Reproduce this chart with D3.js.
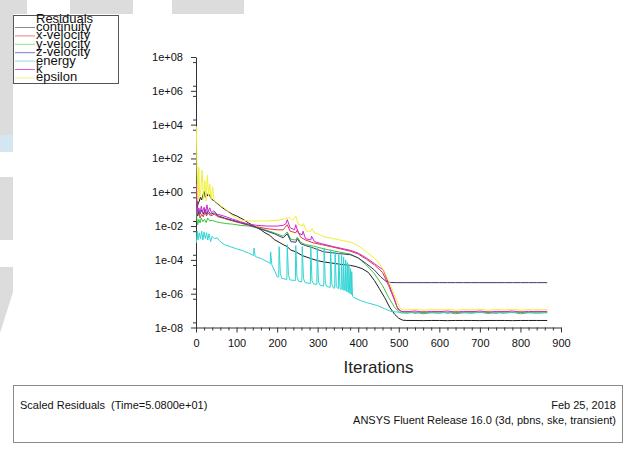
<!DOCTYPE html>
<html>
<head>
<meta charset="utf-8">
<script src="https://cdn.jsdelivr.net/npm/d3@7"></script>
<style>
  body { margin: 0; background: #fff; }
  svg { display: block; font-family: "Liberation Sans", Arial, sans-serif; }
</style>
</head>
<body>
<div id="main"></div>
<script>
// residual histories, [iteration, scaled residual]
var continuity = [[1,1e2],[2,1.5e0],[3,1.2e-1],[5,2e-1],[8,3e-1],[11,5e-1],[14,3.5e-1],[17,7e-1],[20,1.1e0],[23,5e-1],[26,9e-1],[29,6e-1],[33,7e-1],[38,4e-1],[45,3e-1],[52,2.2e-1],[60,1.5e-1],[70,1e-1],[80,7e-2],[90,5e-2],[100,4e-2],[110,3e-2],[120,2.2e-2],[130,1.5e-2],[140,1.1e-2],[150,8e-3],[160,6e-3],[170,4e-3],[182,2.8e-3],[193,1.6e-3],[205,1.1e-3],[215,8e-4],[225,6e-4],[234,3.8e-4],[246,3e-4],[262,1.8e-4],[283,1.2e-4],[300,9e-5],[315,7.5e-5],[335,6.5e-5],[355,5.5e-5],[381,4.7e-5],[395,4e-5],[410,3e-5],[425,1.8e-5],[440,6e-6],[452,2e-6],[465,6e-7],[478,1.5e-7],[490,6e-8],[500,3.5e-8],[510,2.7e-8]];
var xVelocity = [[1,8e-1],[2,1e-1],[4,4e-2],[7,6e-2],[10,3e-2],[14,5e-2],[18,3.5e-2],[22,7e-2],[26,4e-2],[30,6e-2],[36,4e-2],[45,5e-2],[55,3.5e-2],[70,2.8e-2],[90,2e-2],[110,1.5e-2],[130,1.1e-2],[150,9e-3],[175,7e-3],[200,6e-3],[215,6e-3],[225,1.2e-2],[232,5e-3],[246,4e-3],[250,6e-3],[258,2.2e-3],[270,1.5e-3],[290,1e-3],[310,8e-4],[340,5.5e-4],[382,3.2e-4],[400,2.2e-4],[420,1.1e-4],[440,5e-5],[460,1.8e-5],[475,3e-6],[488,5e-7],[498,1.2e-7],[510,8e-8]];
var yVelocity = [[1,5e-1],[2,3e-2],[4,1.2e-2],[7,2.5e-2],[10,1.5e-2],[13,3e-2],[17,1.8e-2],[21,2.5e-2],[25,1.6e-2],[29,3e-2],[34,2e-2],[40,2.2e-2],[50,1.8e-2],[60,1.6e-2],[75,1.4e-2],[90,1.3e-2],[110,1.1e-2],[130,1e-2],[150,8e-3],[170,6e-3],[193,4e-3],[215,2.5e-3],[225,4.5e-3],[234,1.6e-3],[246,1.5e-3],[250,2.2e-3],[258,1.1e-3],[270,8e-4],[290,6.5e-4],[315,4.5e-4],[350,3e-4],[381,2.2e-4],[400,1.3e-4],[420,5e-5],[440,1.5e-5],[460,3e-6],[475,6e-7],[490,1.5e-7],[503,7.5e-8]];
var zVelocity = [[1,1.5e0],[2,1.5e-1],[4,4e-2],[7,8e-2],[10,5e-2],[14,9e-2],[18,5e-2],[22,1e-1],[26,5e-2],[30,8e-2],[36,5e-2],[45,6e-2],[55,4e-2],[70,3e-2],[90,2.2e-2],[110,1.6e-2],[130,1.2e-2],[150,8e-3],[170,5.5e-3],[193,3.5e-3],[215,2e-3],[225,3.5e-3],[234,1.2e-3],[246,1.1e-3],[250,1.8e-3],[258,9e-4],[270,7e-4],[290,5e-4],[315,3e-4],[350,2.4e-4],[381,2e-4],[400,1.3e-4],[420,6e-5],[440,2.5e-5],[455,1e-5],[468,5.5e-6],[480,4.6e-6],[495,4.5e-6]];
var energy = [[1,1e-3],[3,5e-3],[5,1.5e-3],[8,4e-3],[11,1.8e-3],[14,5e-3],[17,1.5e-3],[20,4.5e-3],[23,1.8e-3],[26,4e-3],[29,1.5e-3],[32,3.5e-3],[36,1.2e-3],[40,2.5e-3],[45,1.8e-3],[52,2e-3],[60,1.2e-3],[70,8e-4],[85,6e-4],[100,4.5e-4],[115,3.5e-4],[130,2.5e-4],[142,1.8e-4],[143,5e-4],[146,1.6e-4],[160,1.2e-4],[175,8e-5],[183,6e-5],[184,3e-4],[187,5e-5],[195,2e-5],[200,1e-5],[204,1e-5],[205,6e-4],[208,1.5e-5],[212,8e-6],[224,7e-6],[225,8e-4],[228,1.2e-5],[232,6.5e-6],[245,6e-6],[246,7e-4],[249,1e-5],[253,5.5e-6],[261,5e-6],[262,6e-4],[265,8e-6],[269,4.5e-6],[282,4e-6],[283,6e-4],[286,6e-6],[290,3.8e-6],[298,3.5e-6],[299,5e-4],[302,5e-6],[306,3.2e-6],[315,2.8e-6],[316,5e-4],[319,4e-6],[323,2.6e-6],[331,2.4e-6],[332,4e-4],[335,3.5e-6],[339,2.2e-6],[342,2.1e-6],[343,3e-4],[346,2.5e-6],[351,2e-6],[352,2.5e-4],[355,2e-6],[358,1.8e-6],[359,2e-4],[361,2e-6],[363,1.6e-6],[364,1.5e-4],[366,1.8e-6],[368,1.5e-6],[369,1e-4],[371,1.5e-6],[372,1.3e-6],[373,7e-5],[375,1.3e-6],[376,1.2e-6],[377,5e-5],[379,1.1e-6],[380,1e-6],[381,3e-5],[383,9e-7],[384,2e-5],[386,7e-7],[389,6e-7],[405,4e-7],[420,3e-7],[447,2e-7],[465,1.3e-7],[480,9e-8],[500,8e-8]];
var kResid = [[1,3e0],[2,2e-1],[4,5e-2],[7,1.2e-1],[10,6e-2],[13,1.5e-1],[16,7e-2],[20,1.3e-1],[24,6e-2],[27,1.8e-1],[30,7e-2],[34,1.2e-1],[38,6e-2],[44,8e-2],[52,5e-2],[60,4.5e-2],[75,3.5e-2],[90,2.6e-2],[110,1.8e-2],[130,1.3e-2],[150,1.1e-2],[175,1e-2],[200,1e-2],[215,1.1e-2],[222,1.4e-2],[225,2.4e-2],[232,8e-3],[243,6e-3],[246,1.2e-2],[252,4e-3],[262,3e-3],[264,5e-3],[270,1.8e-3],[283,1.5e-3],[285,2.5e-3],[292,1.2e-3],[310,9e-4],[340,6e-4],[382,3.6e-4],[400,2.5e-4],[420,1.3e-4],[440,6e-5],[462,2.5e-5],[475,4e-6],[488,6e-7],[496,1.6e-7],[505,9e-8]];
var epsilon = [[1,8e3],[2,5e1],[3,3e0],[5,3e-1],[7,3e1],[9,5e-1],[12,1.5e0],[15,2e1],[18,4e-1],[22,5e0],[25,3e-1],[28,1e1],[31,6e-1],[34,3e0],[37,4e-1],[41,2e0],[45,3e-1],[52,2.5e-1],[60,1.6e-1],[70,1.2e-1],[85,5e-2],[100,3e-2],[115,2.2e-2],[130,2e-2],[150,2e-2],[175,2e-2],[200,2.2e-2],[215,2.5e-2],[225,3e-2],[230,3.3e-2],[238,2.2e-2],[246,3.8e-2],[252,1.3e-2],[262,1e-2],[265,1.4e-2],[272,5e-3],[283,5e-3],[286,7e-3],[292,4e-3],[300,3.5e-3],[316,2.3e-3],[340,1.8e-3],[360,1.4e-3],[382,1.1e-3],[400,7e-4],[420,3e-4],[447,9e-5],[465,2e-5],[480,3e-6],[493,5e-7],[504,1.3e-7],[512,1.1e-7]];

// converged tails, sampled at the same iterations
var tailIters = [520,540,560,580,600,620,640,660,680,700,720,740,760,780,800,820,840,866];
var continuityTail = [2.6e-8,2.6e-8,2.55e-8,2.6e-8,2.6e-8,2.55e-8,2.6e-8,2.6e-8,2.6e-8,2.55e-8,2.6e-8,2.6e-8,2.6e-8,2.55e-8,2.6e-8,2.6e-8,2.6e-8,2.6e-8];
var xVelocityTail = [9e-8,7e-8,8.5e-8,7.5e-8,9e-8,7e-8,8.5e-8,7.5e-8,9e-8,7.5e-8,8.5e-8,7e-8,9e-8,7.5e-8,8.5e-8,7.5e-8,9e-8,8e-8];
var yVelocityTail = [7e-8,8e-8,6.5e-8,7.5e-8,7e-8,8e-8,6.5e-8,7.5e-8,7e-8,8e-8,6.8e-8,7.6e-8,7e-8,8e-8,6.5e-8,7.5e-8,7e-8,7.5e-8];
var zVelocityTail = [4.5e-6,4.5e-6,4.5e-6,4.5e-6,4.5e-6,4.5e-6,4.5e-6,4.5e-6,4.5e-6,4.5e-6,4.5e-6,4.5e-6,4.5e-6,4.5e-6,4.5e-6,4.5e-6,4.5e-6,4.5e-6];
var energyTail = [8e-8,8e-8,7.8e-8,8e-8,8e-8,7.8e-8,8e-8,8e-8,7.8e-8,8e-8,8e-8,7.8e-8,8e-8,8e-8,7.8e-8,8e-8,8e-8,8e-8];
var kTail = [8.5e-8,9.5e-8,8e-8,9e-8,8.5e-8,9.5e-8,8e-8,9e-8,8.5e-8,9.5e-8,8e-8,9e-8,8.5e-8,9.5e-8,8e-8,9e-8,8.5e-8,9e-8];
var epsilonTail = [1.1e-7,1.2e-7,1.05e-7,1.15e-7,1.1e-7,1.2e-7,1.05e-7,1.15e-7,1.1e-7,1.2e-7,1.05e-7,1.15e-7,1.1e-7,1.2e-7,1.05e-7,1.15e-7,1.1e-7,1.15e-7];

var names = ["continuity","x-velocity","y-velocity","z-velocity","energy","k","epsilon"];
var yTicks = [1e-8,1e-6,1e-4,1e-2,1e0,1e2,1e4,1e6,1e8];
var xTicks = [0,100,200,300,400,500,600,700,800,900];

var colors = ["#1e1e1e","#e03a3a","#3cc43c","#3a3a70","#30d4d4","#d028d0","#f2f034"];
var legendColors = ["#8c8c8c","#e88080","#90dc90","#7a7ac8","#88dcdc","#d860d8","#f0f090"];

var heads = [continuity,xVelocity,yVelocity,zVelocity,energy,kResid,epsilon];
var tails = [continuityTail,xVelocityTail,yVelocityTail,zVelocityTail,energyTail,kTail,epsilonTail];
var series = heads.map(function(h, i) {
  return h.concat(tailIters.map(function(t, j) { return [t, tails[i][j]]; }));
});

var W = 635, H = 457;
var svg = d3.select("#main").append("svg").attr("width", W).attr("height", H);

// page decoration behind the chart
var deco = svg.append("g");
deco.append("rect").attr("x",0).attr("y",0).attr("width",27).attr("height",14).attr("fill","#dcdcdc");
deco.append("rect").attr("x",70).attr("y",0).attr("width",63).attr("height",14).attr("fill","#dcdcdc");
deco.append("rect").attr("x",172).attr("y",0).attr("width",72).attr("height",14).attr("fill","#dcdcdc");
deco.append("rect").attr("x",0).attr("y",0).attr("width",13).attr("height",135).attr("fill","#dcdcdc");
deco.append("rect").attr("x",0).attr("y",135).attr("width",13).attr("height",17).attr("fill","#d4e7f0");
deco.append("rect").attr("x",0).attr("y",177).attr("width",13).attr("height",63).attr("fill","#dcdcdc");
deco.append("path").attr("d","M0,267L13,267L13,292L0,333Z").attr("fill","#dcdcdc");

var x = d3.scaleLinear().domain([0,900]).range([196,561]);
var y = d3.scaleLog().domain([1e-8,1e8]).range([327.5,57]);

function fmt(v) {
  var e = Math.round(Math.log10(v));
  return "1e" + (e < 0 ? "-" : "+") + String(Math.abs(e)).padStart(2,"0");
}

// minor ticks
var yMinor = [];
yTicks.forEach(function(t) { yMinor.push(t*2, t/2); });
yMinor = yMinor.filter(function(v) { return v > 1e-8 && v < 1e8; });
var xMinor = [];
xTicks.forEach(function(t) { [20,40,60,80].forEach(function(m) { if (t + m < 900) xMinor.push(t + m); }); });

svg.append("g").attr("transform","translate(196,0)")
  .call(d3.axisLeft(y).tickValues(yMinor).tickSize(3).tickFormat(""))
  .call(function(g) { g.select(".domain").remove(); });
svg.append("g").attr("transform","translate(0,327.5)")
  .call(d3.axisBottom(x).tickValues(xMinor).tickSize(3).tickFormat(""))
  .call(function(g) { g.select(".domain").remove(); });

var yAxis = svg.append("g").attr("class","axis").attr("transform","translate(196,0)")
  .call(d3.axisLeft(y).tickValues(yTicks).tickSize(5).tickPadding(8).tickFormat(fmt).tickSizeOuter(0));
var xAxis = svg.append("g").attr("class","axis").attr("transform","translate(0,327.5)")
  .call(d3.axisBottom(x).tickValues(xTicks).tickSize(5).tickPadding(7).tickSizeOuter(0));

svg.selectAll(".tick line").attr("stroke","#333");
svg.selectAll(".domain").attr("stroke","#333");
svg.selectAll(".axis text").attr("font-size","11px").attr("fill","#111")
  .attr("font-family","'Liberation Sans', Arial, sans-serif");

svg.append("text").attr("x",378.5).attr("y",373).attr("text-anchor","middle")
  .attr("font-size","17px").attr("fill","#222").text("Iterations");

// residual lines
svg.append("clipPath").attr("id","plotclip").append("rect")
  .attr("x",196).attr("y",57).attr("width",365).attr("height",271);
var line = d3.line().x(function(d) { return x(d[0]); }).y(function(d) { return y(d[1]); });
svg.append("g").attr("clip-path","url(#plotclip)")
  .selectAll("path").data(series).enter().append("path")
  .attr("d", line)
  .attr("fill","none")
  .attr("stroke", function(d, i) { return colors[i]; })
  .attr("stroke-width",1);

// legend
var lg = svg.append("g").attr("font-size","13px").attr("fill","#111");
lg.append("rect").attr("x",13.5).attr("y",15.5).attr("width",105).attr("height",68)
  .attr("fill","#fff").attr("stroke","#555");
lg.append("text").attr("x",36).attr("y",22.5).text("Residuals");
names.forEach(function(n, i) {
  var yy = 31 + i*8.4;
  lg.append("line").attr("x1",15).attr("x2",35).attr("y1",yy-3.5).attr("y2",yy-3.5)
    .attr("stroke",legendColors[i]).attr("stroke-width",1);
  lg.append("text").attr("x",36).attr("y",yy).text(n);
});

// title box at the bottom
var tb = svg.append("g").attr("font-size","11px").attr("fill","#111");
tb.append("rect").attr("x",13.5).attr("y",385.5).attr("width",609).attr("height",57)
  .attr("fill","none").attr("stroke","#8a8a8a");
tb.append("text").attr("x",20).attr("y",409).style("white-space","pre")
  .text("Scaled Residuals  (Time=5.0800e+01)");
tb.append("text").attr("x",616).attr("y",409).attr("text-anchor","end").text("Feb 25, 2018");
tb.append("text").attr("x",616).attr("y",424).attr("text-anchor","end")
  .text("ANSYS Fluent Release 16.0 (3d, pbns, ske, transient)");
</script>
</body>
</html>
